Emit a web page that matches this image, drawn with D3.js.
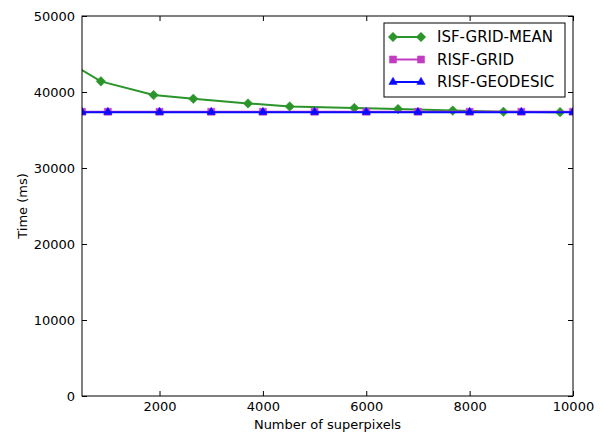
<!DOCTYPE html>
<html>
<head>
<meta charset="utf-8">
<script src="https://cdn.jsdelivr.net/npm/d3@7"></script>
<style>
  body { margin: 0; background: #fff; }
  svg text { font-family: "DejaVu Sans", sans-serif; fill: #000; }
</style>
</head>
<body>
<div id="chart"></div>
<script>
// data
var isfX = [300, 865, 1885, 2654, 3712, 4519, 5769, 6615, 7673, 8654, 9750];
var isfY = [43700, 41400, 39600, 39100, 38500, 38100, 37900, 37750, 37550, 37400, 37350];
var gridX = [500, 1000, 2000, 3000, 4000, 5000, 6000, 7000, 8000, 9000, 10000];
var gridY = [37400, 37400, 37400, 37400, 37400, 37400, 37400, 37400, 37400, 37400, 37400];
var geoX = [500, 1000, 2000, 3000, 4000, 5000, 6000, 7000, 8000, 9000, 10000];
var geoY = [37350, 37350, 37350, 37350, 37350, 37350, 37350, 37350, 37350, 37350, 37350];
var xTicks = [2000, 4000, 6000, 8000, 10000];
var yTicks = [0, 10000, 20000, 30000, 40000, 50000];
var seriesNames = ['ISF-GRID-MEAN', 'RISF-GRID', 'RISF-GEODESIC'];

var margin = {top: 16, right: 30, bottom: 38, left: 82},
	W = 603, H = 434,
	width = W - margin.left - margin.right,
	height = H - margin.top - margin.bottom;

var x = d3.scaleLinear().domain([500, 10000]).range([0, width]);
var y = d3.scaleLinear().domain([0, 50000]).range([height, 0]);

var svg = d3.select('#chart').append('svg').attr('width', W).attr('height', H);
var g = svg.append('g').attr('transform', 'translate(' + margin.left + ',' + margin.top + ')');

svg.append('defs').append('clipPath').attr('id', 'clip')
	.append('rect').attr('width', width).attr('height', height);

function zip(xs, ys) { return xs.map(function (v, i) { return {x: v, y: ys[i]}; }); }

var series = [
	{name: seriesNames[0], data: zip(isfX, isfY), color: '#2b952b', lw: 2, marker: d3.symbolDiamond2, size: 58},
	{name: seriesNames[1], data: zip(gridX, gridY), color: '#c23cc2', lw: 2, marker: d3.symbolSquare, size: 50},
	{name: seriesNames[2], data: zip(geoX, geoY), color: '#0a0aff', lw: 2, marker: d3.symbolTriangle, size: 30}
];

var line = d3.line().x(function (d) { return x(d.x); }).y(function (d) { return y(d.y); });

var plot = g.append('g').attr('clip-path', 'url(#clip)');
series.forEach(function (s) {
	plot.append('path').datum(s.data)
		.attr('d', line)
		.attr('fill', 'none')
		.attr('stroke', s.color)
		.attr('stroke-width', s.lw);
	plot.selectAll(null).data(s.data).enter().append('path')
		.attr('d', d3.symbol().type(s.marker).size(s.size))
		.attr('transform', function (d) { return 'translate(' + x(d.x) + ',' + y(d.y) + ')'; })
		.attr('fill', s.color)
		.attr('stroke', s.color)
		.attr('stroke-width', 0.5);
});

// axes, matplotlib classic style: inward ticks on all sides
var fs = '13px';
g.append('g').attr('transform', 'translate(0,' + height + ')')
	.call(d3.axisBottom(x).tickValues(xTicks).tickSize(-5).tickPadding(6).tickFormat(d3.format('d')))
	.call(function (a) { a.select('.domain').remove(); a.selectAll('text').style('font-size', fs); });
g.append('g')
	.call(d3.axisTop(x).tickValues(xTicks).tickSize(-5).tickFormat(''))
	.call(function (a) { a.select('.domain').remove(); });
g.append('g')
	.call(d3.axisLeft(y).tickValues(yTicks).tickSize(-5).tickPadding(7).tickFormat(d3.format('d')))
	.call(function (a) { a.select('.domain').remove(); a.selectAll('text').style('font-size', fs); });
g.append('g').attr('transform', 'translate(' + width + ',0)')
	.call(d3.axisRight(y).tickValues(yTicks).tickSize(-5).tickFormat(''))
	.call(function (a) { a.select('.domain').remove(); });

g.append('rect').attr('width', width).attr('height', height)
	.attr('fill', 'none').attr('stroke', '#000').attr('stroke-width', 1);

g.append('text').attr('x', width / 2).attr('y', height + 33)
	.attr('text-anchor', 'middle').style('font-size', fs).text('Number of superpixels');
g.append('text').attr('transform', 'translate(' + (-55) + ',' + (height / 2) + ') rotate(-90)')
	.attr('text-anchor', 'middle').style('font-size', fs).text('Time (ms)');

// legend
var lg = g.append('g').attr('transform', 'translate(' + (384 - margin.left) + ',' + (23 - margin.top) + ')');
lg.append('rect').attr('width', 181).attr('height', 74)
	.attr('fill', '#fff').attr('stroke', '#000').attr('stroke-width', 1);
series.forEach(function (s, i) {
	var row = lg.append('g').attr('transform', 'translate(0,' + (14 + i * 22.5) + ')');
	row.append('line').attr('x1', 9).attr('x2', 37).attr('stroke', s.color).attr('stroke-width', s.lw);
	[9, 37].forEach(function (px) {
		row.append('path').attr('d', d3.symbol().type(s.marker).size(s.size))
			.attr('transform', 'translate(' + px + ',0)')
			.attr('fill', s.color).attr('stroke', s.color).attr('stroke-width', 0.5);
	});
	row.append('text').attr('x', 53).attr('dy', '0.36em').style('font-size', '15px').text(s.name);
});
</script>
</body>
</html>
